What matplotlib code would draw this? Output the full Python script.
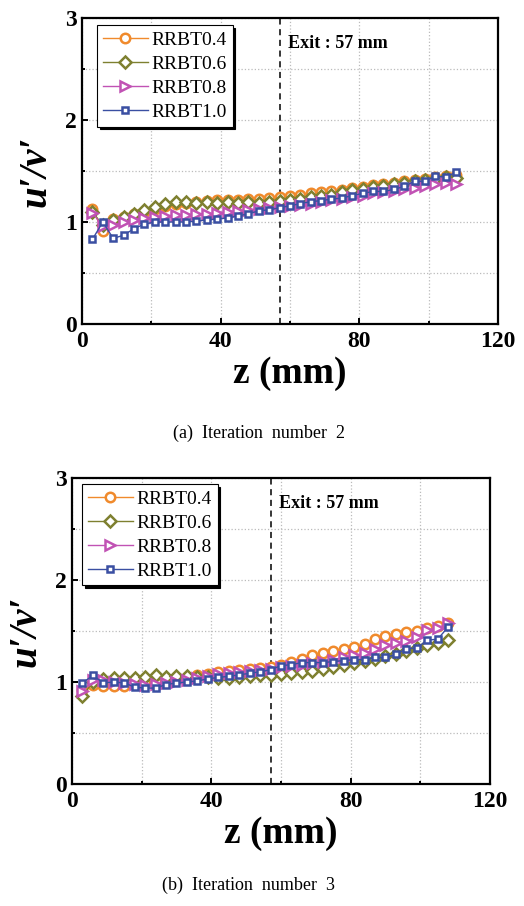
import numpy as np
import matplotlib
matplotlib.use('Agg')
import matplotlib.pyplot as plt
from matplotlib.ticker import MultipleLocator

# streamwise positions (mm)
z = list(range(3, 109, 3))

labels = ['RRBT0.4', 'RRBT0.6', 'RRBT0.8', 'RRBT1.0']
colors = ['#F08A2C', '#7E8030', '#C152B4', '#3A4FA2']
markers = ['o', 'D', '>', 's']
msizes = [6.8, 6.3, 6.8, 4.4]

# (a) iteration number 2
a_04 = [1.13, 0.91, 1.03, 1.05, 1.08, 1.10, 1.13, 1.16, 1.18, 1.19, 1.20, 1.21,
        1.22, 1.22, 1.22, 1.23, 1.23, 1.24, 1.25, 1.26, 1.27, 1.28, 1.29, 1.30,
        1.31, 1.33, 1.34, 1.36, 1.37, 1.38, 1.40, 1.41, 1.42, 1.44, 1.45, 1.46]
a_06 = [1.10, 0.97, 1.02, 1.05, 1.08, 1.12, 1.15, 1.18, 1.20, 1.20, 1.19, 1.20,
        1.19, 1.20, 1.19, 1.20, 1.19, 1.20, 1.21, 1.22, 1.23, 1.25, 1.26, 1.27,
        1.29, 1.31, 1.32, 1.34, 1.35, 1.37, 1.38, 1.40, 1.41, 1.42, 1.44, 1.43]
a_08 = [1.09, 0.96, 0.97, 1.00, 1.02, 1.04, 1.05, 1.06, 1.07, 1.07, 1.08, 1.08,
        1.09, 1.10, 1.11, 1.12, 1.13, 1.14, 1.15, 1.16, 1.17, 1.18, 1.20, 1.22,
        1.23, 1.25, 1.26, 1.28, 1.29, 1.30, 1.32, 1.33, 1.35, 1.37, 1.38, 1.37]
a_10 = [0.83, 1.00, 0.84, 0.87, 0.935, 0.98, 1.00, 1.00, 1.00, 1.00, 1.01, 1.02,
        1.03, 1.04, 1.06, 1.08, 1.11, 1.12, 1.14, 1.16, 1.18, 1.20, 1.21, 1.225,
        1.235, 1.26, 1.28, 1.30, 1.30, 1.32, 1.35, 1.40, 1.40, 1.45, 1.44, 1.49]

# (b) iteration number 3
b_04 = [0.92, 0.97, 0.96, 0.96, 0.96, 0.98, 0.99, 1.00, 1.02, 1.03, 1.05, 1.07,
        1.08, 1.10, 1.11, 1.12, 1.13, 1.14, 1.15, 1.17, 1.20, 1.23, 1.26, 1.28,
        1.30, 1.32, 1.34, 1.37, 1.42, 1.45, 1.47, 1.49, 1.50, 1.53, 1.55, 1.58]
b_06 = [0.86, 1.00, 1.03, 1.04, 1.04, 1.04, 1.05, 1.07, 1.05, 1.06, 1.06, 1.05,
        1.05, 1.04, 1.04, 1.05, 1.06, 1.07, 1.07, 1.08, 1.09, 1.10, 1.11, 1.13,
        1.15, 1.17, 1.19, 1.21, 1.23, 1.25, 1.27, 1.30, 1.33, 1.36, 1.38, 1.41]
b_08 = [0.91, 1.02, 1.02, 1.00, 0.99, 0.98, 0.97, 0.98, 0.99, 1.00, 1.02, 1.04,
        1.06, 1.08, 1.09, 1.10, 1.11, 1.12, 1.13, 1.15, 1.16, 1.17, 1.19, 1.20,
        1.22, 1.24, 1.26, 1.28, 1.32, 1.36, 1.38, 1.40, 1.44, 1.51, 1.53, 1.58]
b_10 = [0.99, 1.065, 0.99, 1.00, 0.99, 0.95, 0.94, 0.94, 0.975, 0.99, 1.00, 1.01,
        1.03, 1.045, 1.055, 1.07, 1.085, 1.10, 1.12, 1.16, 1.17, 1.19, 1.19, 1.19,
        1.20, 1.21, 1.22, 1.22, 1.24, 1.24, 1.27, 1.325, 1.335, 1.41, 1.42, 1.54]

panels = [
    # axes rect, data, caption, caption pos, legend anchor
    ([0.1565, 0.6424, 0.7935, 0.3376], [a_04, a_06, a_08, a_10],
     '(a)  Iteration  number  2', (0.494, 0.522), (0.036, 0.977)),
    ([0.1374, 0.1347, 0.7977, 0.3377], [b_04, b_06, b_08, b_10],
     '(b)  Iteration  number  3', (0.475, 0.023), (0.024, 0.98)),
]

plt.rcParams['font.family'] = ['Liberation Serif', 'DejaVu Serif']

fig = plt.figure(figsize=(5.24, 9.06), dpi=100)

for rect, series, caption, cap_xy, leg_xy in panels:
    ax = fig.add_axes(rect)
    for ys, lab, c, m, ms in zip(series, labels, colors, markers, msizes):
        ax.plot(z, ys, color=c, marker=m, markersize=ms, markerfacecolor='white',
                markeredgewidth=1.8, linewidth=1.0, label=lab)

    ax.axvline(57, color='black', linestyle=(0, (4, 3)), linewidth=1.1, zorder=1)
    ax.text(59.5, 2.75, 'Exit : 57 mm', fontsize=13, fontweight='bold',
            va='center', ha='left')

    ax.set_xlim(0, 120)
    ax.set_ylim(0, 3)
    ax.xaxis.set_major_locator(MultipleLocator(40))
    ax.xaxis.set_minor_locator(MultipleLocator(20))
    ax.yaxis.set_major_locator(MultipleLocator(1))
    ax.yaxis.set_minor_locator(MultipleLocator(0.5))
    ax.grid(which='both', color='#BBBBBB', linestyle=':', linewidth=0.9)
    ax.set_axisbelow(True)

    ax.tick_params(which='both', direction='in', labelsize=17, width=1.4)
    ax.tick_params(which='major', length=4)
    ax.tick_params(which='minor', length=2.5)
    ax.tick_params(axis='x', pad=5)
    for t in ax.get_xticklabels() + ax.get_yticklabels():
        t.set_fontweight('bold')
    for s in ax.spines.values():
        s.set_linewidth(1.6)

    ax.set_xlabel('z (mm)', fontsize=27, fontweight='bold', labelpad=3)
    ax.set_ylabel('u\u2032/v\u2032', fontsize=28, fontweight='bold',
                  fontstyle='italic', labelpad=8)

    leg = ax.legend(loc='upper left', bbox_to_anchor=leg_xy, fontsize=14,
                    frameon=True, fancybox=False,
                    shadow={'color': 'black', 'alpha': 1.0}, edgecolor='black',
                    borderpad=0.3, labelspacing=0.33, handlelength=2.3,
                    handletextpad=0.2, borderaxespad=0)
    leg.get_frame().set_linewidth(0.8)

    fig.text(cap_xy[0], cap_xy[1], caption, fontsize=13, ha='center', va='center')

fig.savefig('out.png', dpi=100)
